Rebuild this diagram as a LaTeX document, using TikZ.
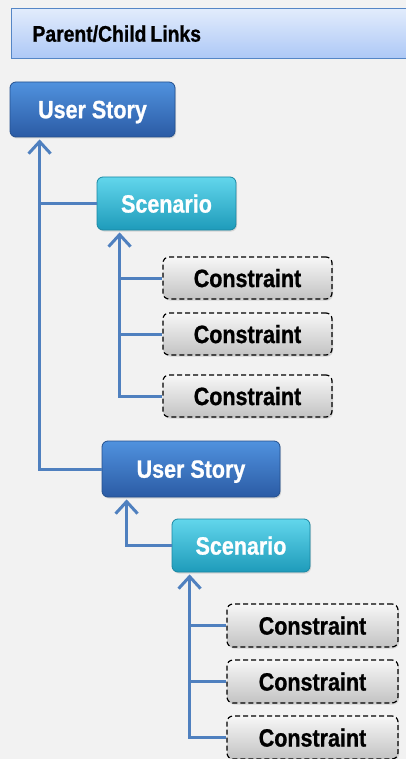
\documentclass[tikz,border=0pt]{standalone}
\usepackage{fontspec}
\setmainfont{Liberation Sans}[FakeStretch=0.86, BoldFeatures={FakeBold=0.9}]
\usetikzlibrary{arrows.meta,shadows}
\definecolor{bgcol}{HTML}{F2F2F2}
\definecolor{titletop}{HTML}{E2ECFC}
\definecolor{titlebot}{HTML}{ADC8F6}
\definecolor{titleline}{HTML}{5586C6}
\definecolor{ustop}{HTML}{5092DE}
\definecolor{usbot}{HTML}{2B5BA5}
\definecolor{usline}{HTML}{24508E}
\definecolor{sctop}{HTML}{62D6EC}
\definecolor{scbot}{HTML}{1E9BBA}
\definecolor{scline}{HTML}{1A88A3}
\definecolor{cntop}{HTML}{F7F7F7}
\definecolor{cnbot}{HTML}{C3C3C3}
\definecolor{linkcol}{HTML}{4F80BF}
\tikzset{
  box/.style={rounded corners=6pt, inner sep=0pt, text depth=0pt,
    font=\bfseries\fontsize{25}{28}\selectfont,
    drop shadow={opacity=0.25, shadow xshift=1pt, shadow yshift=-1.5pt}},
  storybox/.style={box, top color=ustop, bottom color=usbot, draw=usline, line width=0.8pt, text=white},
  scenbox/.style={box, top color=sctop, bottom color=scbot, draw=scline, line width=0.8pt, text=white},
  consbox/.style={box, top color=cntop, bottom color=cnbot, draw=black, line width=1.2pt, text=black,
    dash pattern=on 5pt off 3pt},
  link/.style={draw=linkcol, line width=3pt},
  uparrow/.style={link, -{Straight Barb[length=12pt,width=22pt,line width=3pt]}}
}
\begin{document}
\begin{tikzpicture}[x=1pt,y=-1pt]
  \useasboundingbox (0,0) rectangle (406,759);
  \fill[bgcol] (0,0) rectangle (406,759);

  % heading bar running off the right edge
  \node[top color=titletop, bottom color=titlebot, draw=titleline, line width=1pt,
        minimum width=420pt, minimum height=50pt, inner sep=0pt, anchor=north west,
        text width=400pt, align=left, text depth=0pt, font=\bfseries\fontsize{22.5}{25}\selectfont]
        (title) at (11,8) {\hspace{11pt}Parent/Child\hspace{4pt}Links};

  % first story and its children
  \node[storybox, minimum width=165pt, minimum height=55pt] (us1) at (92.5,109.5) {User Story};
  \node[scenbox, minimum width=139pt, minimum height=53pt] (sc1) at (166.5,203.5) {Scenario};
  \node[consbox, minimum width=169pt, minimum height=42pt] (c1a) at (247.5,278) {Constraint};
  \node[consbox, minimum width=169pt, minimum height=42pt] (c1b) at (247.5,334) {Constraint};
  \node[consbox, minimum width=169pt, minimum height=42pt] (c1c) at (247.5,396) {Constraint};

  % second story and its children
  \node[storybox, minimum width=178pt, minimum height=56pt] (us2) at (191,469) {User Story};
  \node[scenbox, minimum width=138pt, minimum height=53pt] (sc2) at (241,545.5) {Scenario};
  \node[consbox, minimum width=171pt, minimum height=43pt] (c2a) at (312.5,625.5) {Constraint};
  \node[consbox, minimum width=171pt, minimum height=43pt] (c2b) at (312.5,681.5) {Constraint};
  \node[consbox, minimum width=171pt, minimum height=43pt] (c2c) at (312.5,737.5) {Constraint};

  % links from children up to their parents
  \coordinate (t1) at ([xshift=30pt,yshift=-2pt]us1.south west);
  \draw[uparrow] (us2.west) -| (t1);
  \draw[link] (sc1.west) -- (sc1.west -| t1);

  \coordinate (t2) at ([xshift=23pt,yshift=-2pt]sc1.south west);
  \draw[uparrow] (c1c.west) -| (t2);
  \draw[link] (c1a.west) -- (c1a.west -| t2);
  \draw[link] (c1b.west) -- (c1b.west -| t2);

  \coordinate (t3) at ([xshift=25pt,yshift=-2pt]us2.south west);
  \draw[uparrow] (sc2.west) -| (t3);

  \coordinate (t4) at ([xshift=18pt,yshift=-2pt]sc2.south west);
  \draw[uparrow] (c2c.west) -| (t4);
  \draw[link] (c2a.west) -- (c2a.west -| t4);
  \draw[link] (c2b.west) -- (c2b.west -| t4);
\end{tikzpicture}
\end{document}
